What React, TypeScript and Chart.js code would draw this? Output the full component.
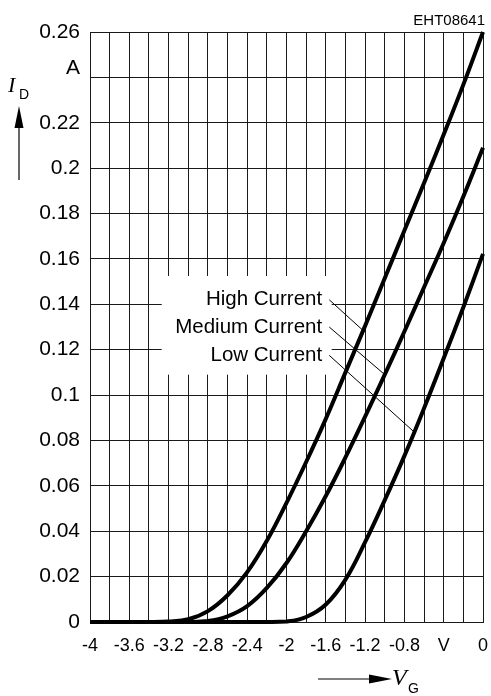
import { useEffect, useRef } from 'react';
import { Chart, registerables } from 'chart.js';

Chart.register(...registerables);

// Gate voltage V_G (V), sampled every 0.2 V
const GATE_VOLTAGE = [
  -4, -3.8, -3.6, -3.4, -3.2, -3, -2.8, -2.6, -2.4, -2.2, -2, -1.8, -1.6, -1.4, -1.2, -1, -0.8, -0.6, -0.4,
  -0.2, 0,
];

// Drain current I_D (A) for each operating mode
const HIGH_CURRENT = [
  0, 0, 0, 0, 0.0002, 0.0012, 0.0048, 0.0118, 0.022, 0.0358, 0.0525, 0.0705, 0.0895, 0.11, 0.1305, 0.1515,
  0.1725, 0.1935, 0.2148, 0.2368, 0.26,
];
const MEDIUM_CURRENT = [
  0, 0, 0, 0, 0, 0, 0.0004, 0.0025, 0.007, 0.015, 0.026, 0.04, 0.0555, 0.0725, 0.0905, 0.109, 0.128,
  0.1475, 0.167, 0.1875, 0.209,
];
const LOW_CURRENT = [
  0, 0, 0, 0, 0, 0, 0, 0, 0, 0, 0.0002, 0.0022, 0.0077, 0.0187, 0.0352, 0.0537, 0.0732, 0.0942, 0.1162,
  0.1387, 0.1622,
];

const SERIES_NAMES = ['High Current', 'Medium Current', 'Low Current'];
const SERIES_VALUES = [HIGH_CURRENT, MEDIUM_CURRENT, LOW_CURRENT];
// Gate voltage where each label's leader line meets its curve
const LEADER_TARGET_V = [-1.22, -1.0, -0.7];
// Drain current level at which each label is written
const LABEL_LEVEL_I = [0.142, 0.13, 0.1175];

const X_TICK_LABELS = ['-4', '-3.6', '-3.2', '-2.8', '-2.4', '-2', '-1.6', '-1.2', '-0.8', 'V', '0'];
const Y_TICK_LABELS = [
  '0', '0.02', '0.04', '0.06', '0.08', '0.1', '0.12', '0.14', '0.16', '0.18', '0.2', '0.22', 'A', '0.26',
];

const CHART_CODE = 'EHT08641';

const SANS = "'Liberation Sans', Arial, Helvetica, sans-serif";
const SERIF = "'Liberation Serif', 'Times New Roman', serif";

function currentAt(values: number[], v: number): number {
  for (let i = 0; i < GATE_VOLTAGE.length - 1; i++) {
    const a = GATE_VOLTAGE[i];
    const b = GATE_VOLTAGE[i + 1];
    if (v >= a && v <= b) {
      const t = (v - a) / (b - a);
      return values[i] + t * (values[i + 1] - values[i]);
    }
  }
  return values[values.length - 1];
}

const annotationPlugin = {
  id: 'curveAnnotations',
  beforeDatasetsDraw(chart: any) {
    const { ctx, scales } = chart;
    const x = scales.x;
    const y = scales.y;
    ctx.save();
    // white panel behind the curve labels
    const left = x.getPixelForValue(-3.27);
    const right = x.getPixelForValue(-1.54);
    const top = y.getPixelForValue(0.1525);
    const bottom = y.getPixelForValue(0.109);
    ctx.fillStyle = '#ffffff';
    ctx.fillRect(left, top, right - left, bottom - top);

    const textRight = x.getPixelForValue(-1.637);
    const leaderStart = x.getPixelForValue(-1.565);
    ctx.font = `20.5px ${SANS}`;
    ctx.fillStyle = '#000';
    ctx.textAlign = 'right';
    ctx.textBaseline = 'middle';
    SERIES_NAMES.forEach((name, i) => {
      const ty = y.getPixelForValue(LABEL_LEVEL_I[i]);
      ctx.fillText(name, textRight, ty);
      const tv = LEADER_TARGET_V[i];
      const ex = x.getPixelForValue(tv);
      const ey = y.getPixelForValue(currentAt(SERIES_VALUES[i], tv));
      ctx.beginPath();
      ctx.lineWidth = 1;
      ctx.strokeStyle = '#000';
      ctx.moveTo(leaderStart, ty);
      ctx.lineTo(ex, ey);
      ctx.stroke();
    });
    ctx.restore();
  },
  afterDraw(chart: any) {
    const { ctx } = chart;
    ctx.save();
    ctx.fillStyle = '#000';
    ctx.strokeStyle = '#000';
    ctx.textBaseline = 'alphabetic';

    // chart code, top right
    ctx.font = `15px ${SANS}`;
    ctx.textAlign = 'right';
    ctx.fillText(CHART_CODE, 485, 25);

    // I_D axis title with upward arrow
    ctx.textAlign = 'left';
    ctx.font = `italic 22px ${SERIF}`;
    ctx.fillText('I', 8, 92);
    ctx.font = `14px ${SANS}`;
    ctx.fillText('D', 19, 99);
    ctx.lineWidth = 1.2;
    ctx.beginPath();
    ctx.moveTo(19, 180);
    ctx.lineTo(19, 120);
    ctx.stroke();
    ctx.beginPath();
    ctx.moveTo(19, 106);
    ctx.lineTo(14.5, 128);
    ctx.lineTo(23.5, 128);
    ctx.closePath();
    ctx.fill();

    // V_G axis title with rightward arrow
    ctx.beginPath();
    ctx.moveTo(318, 679);
    ctx.lineTo(375, 679);
    ctx.stroke();
    ctx.beginPath();
    ctx.moveTo(392, 679);
    ctx.lineTo(369, 674.5);
    ctx.lineTo(369, 683.5);
    ctx.closePath();
    ctx.fill();
    ctx.font = `italic 24px ${SERIF}`;
    ctx.fillText('V', 392, 685);
    ctx.font = `14px ${SANS}`;
    ctx.fillText('G', 408, 693);
    ctx.restore();
  },
};

export default function App() {
  const canvasRef = useRef<HTMLCanvasElement | null>(null);

  useEffect(() => {
    const canvas = canvasRef.current;
    if (!canvas) return;
    const datasets = SERIES_NAMES.map((name, s) => ({
      label: name,
      data: GATE_VOLTAGE.map((v, i) => ({ x: v, y: SERIES_VALUES[s][i] })),
      borderColor: '#000',
      backgroundColor: '#000',
      borderWidth: 4,
      pointRadius: 0,
      fill: false,
      tension: 0.4,
      clip: false as const,
    }));

    const gridColor = '#1a1a1a';
    const chart = new Chart(canvas, {
      type: 'line',
      data: { datasets },
      options: {
        animation: false,
        responsive: false,
        layout: { padding: { top: 32, right: 8, left: 0, bottom: 0 } },
        plugins: {
          legend: { display: false },
          tooltip: { enabled: false },
        },
        scales: {
          x: {
            type: 'linear',
            min: -4,
            max: 0,
            afterFit: (scale: any) => {
              scale.height = 74;
              scale.paddingLeft = 0;
              scale.paddingRight = 0;
            },
            ticks: {
              stepSize: 0.2,
              autoSkip: false,
              maxRotation: 0,
              padding: 13,
              color: '#000',
              font: { family: SANS, size: 18 },
              callback: (_v: any, i: number) => (i % 2 === 0 ? X_TICK_LABELS[i / 2] : ''),
            },
            grid: { color: gridColor, lineWidth: 1, drawTicks: false },
            border: { color: gridColor, width: 1 },
          },
          y: {
            type: 'linear',
            min: 0,
            max: 0.26,
            afterFit: (scale: any) => {
              scale.width = 90;
              scale.paddingTop = 0;
              scale.paddingBottom = 0;
            },
            ticks: {
              stepSize: 0.02,
              autoSkip: false,
              padding: 10,
              color: '#000',
              font: { family: SANS, size: 21, lineHeight: 0.86 },
              callback: (_v: any, i: number) => {
                const label = Y_TICK_LABELS[i];
                return label === 'A' ? [label, ''] : label;
              },
            },
            grid: { color: gridColor, lineWidth: 1, drawTicks: false },
            border: { color: gridColor, width: 1 },
          },
        },
      },
      plugins: [annotationPlugin],
    });
    return () => chart.destroy();
  }, []);

  return (
    <div style={{ position: 'absolute', left: 0, top: 0, width: 491, height: 696, background: '#fff' }}>
      <canvas ref={canvasRef} width={491} height={696} style={{ display: 'block' }} />
    </div>
  );
}
